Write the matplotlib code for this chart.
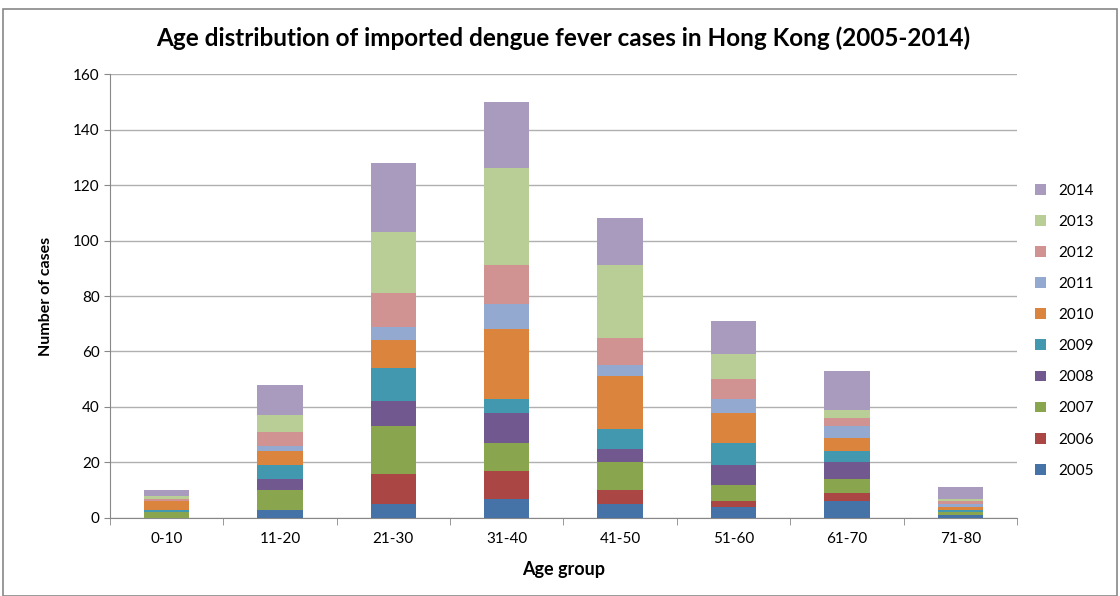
import numpy as np
import matplotlib
matplotlib.use("Agg")
import matplotlib.pyplot as plt
from matplotlib.patches import Rectangle

plt.rcParams['font.family'] = ['Lato', 'DejaVu Sans']

# Grupos etários e casos por ano
grupos = ["0-10", "11-20", "21-30", "31-40", "41-50", "51-60", "61-70", "71-80"]
anos = ["2005", "2006", "2007", "2008", "2009", "2010", "2011", "2012", "2013", "2014"]
c2005 = [0, 3, 5, 7, 5, 4, 6, 1]
c2006 = [0, 0, 11, 10, 5, 2, 3, 0]
c2007 = [2, 7, 17, 10, 10, 6, 5, 1]
c2008 = [0, 4, 9, 11, 5, 7, 6, 0]
c2009 = [1, 5, 12, 5, 7, 8, 4, 1]
c2010 = [3, 5, 10, 25, 19, 11, 5, 1]
c2011 = [0, 2, 5, 9, 4, 5, 4, 1]
c2012 = [1, 5, 12, 14, 10, 7, 3, 1]
c2013 = [1, 6, 22, 35, 26, 9, 3, 1]
c2014 = [2, 11, 25, 24, 17, 12, 14, 4]
series = [c2005, c2006, c2007, c2008, c2009, c2010, c2011, c2012, c2013, c2014]

cores = ["#4572A7", "#AA4643", "#89A54E", "#71588F", "#4198AF",
         "#DB843D", "#93A9CF", "#D19392", "#B9CD96", "#A99BBD"]

fig = plt.figure(figsize=(11.2, 5.96), dpi=100)
ax = fig.add_axes([0.0982, 0.1309, 0.8098, 0.7449])

x = np.arange(len(grupos))
base = np.zeros(len(grupos))
barras = []
for ano, vals, cor in zip(anos, series, cores):
    b = ax.bar(x, vals, 0.4, bottom=base, color=cor, label=ano, zorder=3)
    barras.append(b)
    base += np.array(vals)

ax.set_xlim(-0.5, len(grupos) - 0.5)
ax.set_ylim(0, 160)
ax.set_yticks(range(0, 161, 20))
ax.set_xticks(x)
ax.set_xticklabels(grupos)
ax.set_xticks(np.arange(-0.5, len(grupos)), minor=True)
ax.tick_params(axis='x', which='major', length=0, labelsize=11, pad=10)
ax.tick_params(axis='x', which='minor', length=5, color='#888888')
ax.tick_params(axis='y', length=4, color='#888888', labelsize=11)
ax.grid(axis='y', color='#b0b0b0', linewidth=1, zorder=0)
for s in ['top', 'right']:
    ax.spines[s].set_visible(False)
ax.spines['left'].set_color('#888888')
ax.spines['bottom'].set_color('#888888')

ax.set_title("Age distribution of imported dengue fever cases in Hong Kong (2005-2014)",
             fontsize=17.5, fontweight='bold', pad=20)
ax.set_xlabel("Age group", fontsize=13, fontweight='bold', labelpad=11)
ax.set_ylabel("Number of cases", fontsize=11.5, fontweight='bold', labelpad=14)

leg = ax.legend(barras[::-1], anos[::-1], loc='center left', bbox_to_anchor=(1.005, 0.422),
                frameon=False, fontsize=11, handlelength=0.7, handleheight=0.7,
                labelspacing=1.12, handletextpad=0.8)

fig.patches.append(Rectangle((0.003, 0.0), 0.994, 0.985, transform=fig.transFigure,
                             fill=False, edgecolor='#888888', linewidth=1.2))

fig.savefig("out.png", dpi=100)
